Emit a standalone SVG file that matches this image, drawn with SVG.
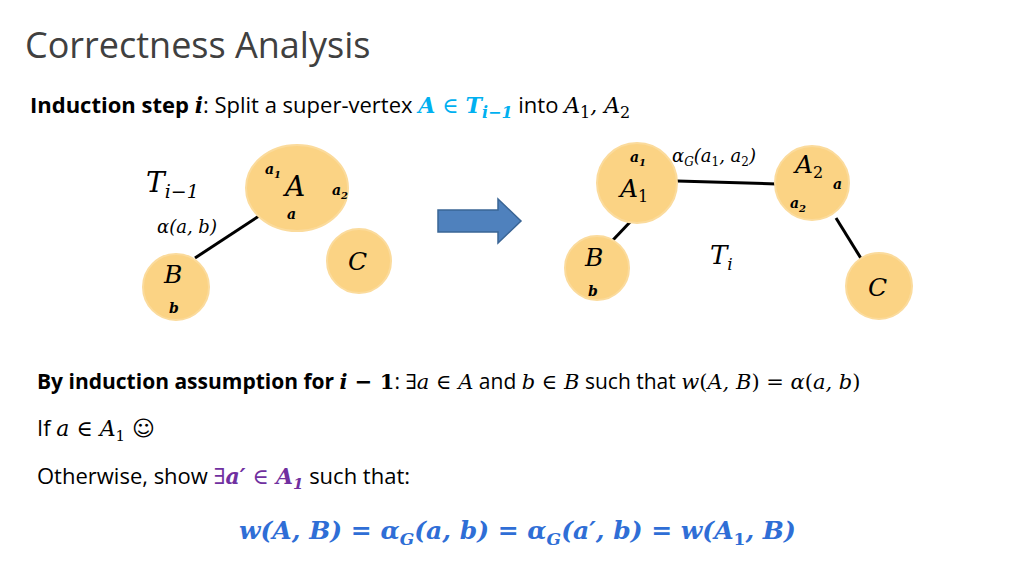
<svg xmlns="http://www.w3.org/2000/svg" width="1024" height="576" viewBox="0 0 1024 576">
<style>
.s{font-family:"Open Sans","Liberation Sans",sans-serif;fill:#000}
.m{font-family:"DejaVu Serif",serif;font-style:italic;fill:#000}
.mb{font-family:"DejaVu Serif",serif;font-style:italic;font-weight:bold;fill:#000}
.r{font-family:"DejaVu Serif",serif}
.n{fill:#FBD384;stroke:#FBDB9C;stroke-width:2}
.e{stroke:#000;stroke-width:3}
</style>
<rect width="1024" height="576" fill="#fff"/>
<text x="25" y="58" class="s" font-size="36" style="fill:#404040">Correctness Analysis</text>
<text x="30" y="113" class="s" font-size="22"><tspan font-weight="bold">Induction step </tspan><tspan class="mb">i</tspan><tspan>: Split a super-vertex </tspan><tspan class="mb" style="fill:#00B0F0">A</tspan><tspan style="fill:#00B0F0" class="r"> ∈ </tspan><tspan class="mb" style="fill:#00B0F0">T</tspan><tspan class="mb" style="fill:#00B0F0" font-size="16" dy="5">i−1</tspan><tspan dy="-5"> into </tspan><tspan class="m">A</tspan><tspan class="r" font-size="16" dy="5">1</tspan><tspan class="m" dy="-5">, A</tspan><tspan class="r" font-size="16" dy="5">2</tspan></text>
<g id="connectors">
<line class="e" x1="195" y1="258" x2="262" y2="214"/>
<line class="e" x1="677" y1="181" x2="777" y2="184"/>
<line class="e" x1="632" y1="220" x2="613" y2="240"/>
<line class="e" x1="836" y1="218" x2="862" y2="260"/>
<path d="M438 210 H498 V199 L521 221 L498 243 V232 H438 Z" fill="#4F81BD" stroke="#3A6595" stroke-width="1.5"/>
</g>
<text x="146" y="192" class="m" font-size="28">T<tspan font-size="19" dy="6">i−1</tspan></text>
<text x="157" y="233" class="m" font-size="18">α(a, b)</text>
<g id="A"><ellipse class="n" cx="297" cy="188" rx="51" ry="43"/>
<text x="265" y="174" class="mb" font-size="14">a<tspan font-size="10" dy="4">1</tspan></text>
<text x="285" y="196" class="m" font-size="28">A</text>
<text x="332" y="195" class="mb" font-size="14">a<tspan font-size="10" dy="4">2</tspan></text>
<text x="287" y="219" class="mb" font-size="14">a</text></g>
<g id="B"><circle class="n" cx="176" cy="287" r="33"/>
<text x="164" y="283" class="m" font-size="25">B</text>
<text x="169" y="313" class="mb" font-size="14">b</text></g>
<g id="C"><circle class="n" cx="359" cy="261" r="32"/>
<text x="348" y="270" class="m" font-size="25">C</text></g>
<text x="672" y="162" class="m" font-size="18">α<tspan font-size="12" dy="4">G</tspan><tspan dy="-4">(a</tspan><tspan font-size="12" class="r" font-style="normal" dy="4">1</tspan><tspan dy="-4">, a</tspan><tspan font-size="12" class="r" font-style="normal" dy="4">2</tspan><tspan dy="-4">)</tspan></text>
<g id="A1"><circle class="n" cx="637" cy="183" r="40"/>
<text x="630" y="162" class="mb" font-size="14">a<tspan font-size="10" dy="4">1</tspan></text>
<text x="620" y="197" class="m" font-size="25">A<tspan font-size="16" font-style="normal" dy="5">1</tspan></text></g>
<g id="A2"><circle class="n" cx="812" cy="183" r="37"/>
<text x="795" y="173" class="m" font-size="25">A<tspan font-size="16" font-style="normal" dy="5">2</tspan></text>
<text x="833" y="189" class="mb" font-size="14">a</text>
<text x="790" y="208" class="mb" font-size="14">a<tspan font-size="10" dy="4">2</tspan></text></g>
<g id="B2"><circle class="n" cx="597" cy="268" r="32"/>
<text x="585" y="266" class="m" font-size="25">B</text>
<text x="588" y="296" class="mb" font-size="14">b</text></g>
<g id="C2"><circle class="n" cx="879" cy="286" r="33"/>
<text x="868" y="296" class="m" font-size="25">C</text></g>
<text x="710" y="264" class="m" font-size="26">T<tspan font-size="17" dy="6">i</tspan></text>
<text x="37" y="389" class="s" font-size="21"><tspan font-weight="bold">By induction assumption for </tspan><tspan class="mb">i</tspan><tspan class="r" font-weight="bold"> − 1</tspan><tspan>: </tspan><tspan class="r">∃</tspan><tspan class="m">a</tspan><tspan class="r"> ∈ </tspan><tspan class="m">A</tspan><tspan> and </tspan><tspan class="m">b</tspan><tspan class="r"> ∈ </tspan><tspan class="m">B</tspan><tspan> such that </tspan><tspan class="m">w</tspan><tspan class="r">(</tspan><tspan class="m">A, B</tspan><tspan class="r">) = </tspan><tspan class="m">α</tspan><tspan class="r">(</tspan><tspan class="m">a, b</tspan><tspan class="r">)</tspan></text>
<text x="37" y="436" class="s" font-size="22">If <tspan class="m">a</tspan><tspan class="r"> ∈ </tspan><tspan class="m">A</tspan><tspan class="r" font-size="15" dy="5">1</tspan><tspan dy="-5" font-family="DejaVu Sans"> ☺</tspan></text>
<text x="37" y="484" class="s" font-size="22">Otherwise, show <tspan style="fill:#7030A0" class="r">∃</tspan><tspan class="mb" style="fill:#7030A0">a′</tspan><tspan style="fill:#7030A0" class="r"> ∈ </tspan><tspan class="mb" style="fill:#7030A0">A</tspan><tspan class="mb" style="fill:#7030A0" font-style="normal" font-size="15" dy="5">1</tspan><tspan dy="-5"> such that:</tspan></text>
<text x="239" y="539" class="mb" font-size="25" style="fill:#2F6ED6">w(A, B) = α<tspan font-size="17" dy="6">G</tspan><tspan dy="-6">(a, b) = α</tspan><tspan font-size="17" dy="6">G</tspan><tspan dy="-6">(a′, b) = w(A</tspan><tspan font-size="17" font-style="normal" dy="6">1</tspan><tspan dy="-6">, B)</tspan></text>
</svg>
